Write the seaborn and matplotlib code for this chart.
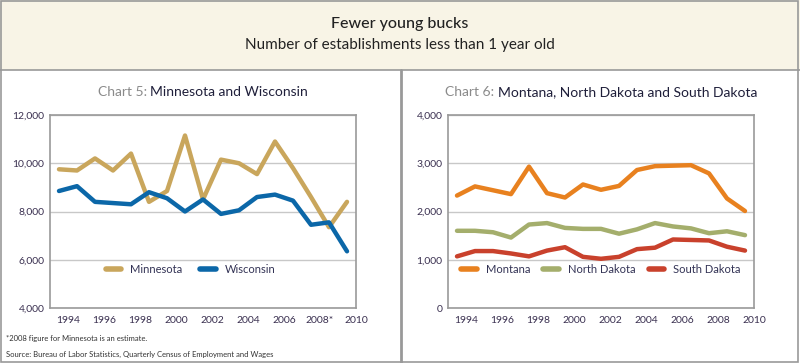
import pandas as pd
import matplotlib
matplotlib.use("Agg")
import matplotlib.pyplot as plt
from matplotlib.patches import Rectangle
from matplotlib.lines import Line2D
import seaborn as sns

# data
years = list(range(1994, 2011))
minnesota = [9750, 9700, 10200, 9700, 10400, 8400, 8850, 11150, 8500, 10150,
             10000, 9550, 10900, 9800, 8600, 7350, 8400]
wisconsin = [8850, 9050, 8400, 8350, 8300, 8800, 8550, 8000, 8500, 7900,
             8050, 8600, 8700, 8450, 7450, 7550, 6350]
montana = [2330, 2520, 2440, 2360, 2930, 2380, 2290, 2560, 2450, 2530,
           2860, 2940, 2950, 2960, 2790, 2270, 2010]
north_dakota = [1600, 1600, 1570, 1460, 1730, 1760, 1660, 1640, 1640, 1540,
                1630, 1760, 1690, 1650, 1550, 1590, 1510]
south_dakota = [1070, 1180, 1180, 1130, 1070, 1190, 1260, 1060, 1020, 1060,
                1220, 1250, 1420, 1410, 1400, 1270, 1190]

left_labels = ["1994", "1996", "1998", "2000", "2002", "2004", "2006", "2008*", "2010"]
right_labels = ["1994", "1996", "1998", "2000", "2002", "2004", "2006", "2008", "2010"]

colors = {
    "Minnesota": "#c9a65c",
    "Wisconsin": "#0b67a8",
    "Montana": "#e8811f",
    "North Dakota": "#a4ae6c",
    "South Dakota": "#c9412c",
}

sns.set_style("white")
plt.rcParams["font.family"] = ["Lato", "DejaVu Sans"]

W, H = 800, 363
fig = plt.figure(figsize=(8, 3.63), dpi=100)


def px_axes(x0, y0, x1, y1):
    # pixel box (top-left origin) -> figure fraction
    return fig.add_axes([x0 / W, 1 - y1 / H, (x1 - x0) / W, (y1 - y0) / H])


# frame and header band
fig.patches.append(Rectangle((0, 1 - 70 / H), 1, 70 / H, transform=fig.transFigure,
                             facecolor="#f8f4e6", edgecolor="none", zorder=0))
fig.add_artist(Line2D([0, 1], [1 - 70 / H] * 2, transform=fig.transFigure, color="#999999", lw=1.2))
fig.add_artist(Line2D([401 / W] * 2, [0, 1 - 70 / H], transform=fig.transFigure, color="#999999", lw=2))
fig.patches.append(Rectangle((0.001, 0.002), 0.997, 0.996, transform=fig.transFigure,
                             facecolor="none", edgecolor="#999999", lw=1.2, zorder=5))

fig.text(0.5, 1 - 24 / H, "Fewer young bucks", ha="center", va="center",
         fontsize=11.5, color="#222222", fontweight="medium")
fig.text(0.5, 1 - 45 / H, "Number of establishments less than 1 year old", ha="center",
         va="center", fontsize=11, color="#222222")


def style_axes(ax, labels, yticks):
    ax.set_xlim(years[0] - 0.5, years[-1] + 0.5)
    ax.set_ylim(yticks[0], yticks[-1])
    ax.set_yticks(yticks)
    ax.set_yticklabels([f"{v:,}" for v in yticks])
    ax.set_xticks([years[0] + 0.5 + 2 * i for i in range(len(labels))])
    ax.set_xticklabels(labels)
    ax.set_xticks([y + 0.5 for y in years[:-1]], minor=True)
    ax.tick_params(axis="x", which="major", length=0, pad=6, labelsize=7.5, labelcolor="#3a3050")
    ax.tick_params(axis="x", which="minor", length=7, width=1, direction="in", color="#999999")
    ax.tick_params(axis="y", length=0, pad=4, labelsize=7.5, labelcolor="#3a3050")
    ax.grid(axis="y", color="#c8c8c8", lw=1)
    ax.set_axisbelow(True)
    for s in ax.spines.values():
        s.set_color("#9a9a9a")
        s.set_linewidth(1.2)
    ax.set_xlabel("")
    ax.set_ylabel("")


def draw(ax, series):
    df = pd.DataFrame({"year": years, **series}).melt("year", var_name="state", value_name="n")
    sns.lineplot(data=df, x="year", y="n", hue="state", palette=colors,
                 lw=3.2, ax=ax, legend=False)


def panel_title(xc, prefix, rest):
    # two-colour title, centred on xc (pixels)
    y = 1 - 92 / H
    a = fig.text(0, y, prefix, ha="left", va="center", fontsize=10, color="#8a8a8a")
    b = fig.text(0, y, rest, ha="left", va="center", fontsize=10, color="#1f1f3a")
    r = fig.canvas.get_renderer()
    wa = a.get_window_extent(r).width
    wb = b.get_window_extent(r).width
    x0 = xc - (wa + wb) / 2
    a.set_x(x0 / W)
    b.set_x((x0 + wa) / W)


leg_kw = dict(loc="center", frameon=False, fontsize=8, handlelength=1.4,
              handletextpad=0.8, labelcolor="#333355")

# Chart 5
ax1 = px_axes(50, 115, 356, 308)
draw(ax1, {"Minnesota": minnesota, "Wisconsin": wisconsin})
style_axes(ax1, left_labels, [4000, 6000, 8000, 10000, 12000])
h1 = [Line2D([], [], color=colors[k], lw=4) for k in ["Minnesota", "Wisconsin"]]
ax1.legend(h1, ["Minnesota", "Wisconsin"], ncol=2, bbox_to_anchor=(0.46, 0.2),
           columnspacing=1.6, **leg_kw)

# Chart 6
ax2 = px_axes(448, 115, 754, 308)
draw(ax2, {"Montana": montana, "North Dakota": north_dakota, "South Dakota": south_dakota})
style_axes(ax2, right_labels, [0, 1000, 2000, 3000, 4000])
names = ["Montana", "North Dakota", "South Dakota"]
h2 = [Line2D([], [], color=colors[k], lw=4) for k in names]
ax2.legend(h2, names, ncol=3, bbox_to_anchor=(0.5, 0.2), columnspacing=1.2, **leg_kw)

panel_title(203, "Chart 5: ", "Minnesota and Wisconsin")
panel_title(601, "Chart 6: ", "Montana, North Dakota and South Dakota")

# footnotes
fig.text(6 / W, 1 - 339 / H, "*2008 figure for Minnesota is an estimate.", fontsize=5.5,
         va="center", color="#333333")
fig.text(6 / W, 1 - 354 / H,
         "Source: Bureau of Labor Statistics, Quarterly Census of Employment and Wages",
         fontsize=5.5, va="center", color="#333333")

fig.savefig("out.png", dpi=100)
